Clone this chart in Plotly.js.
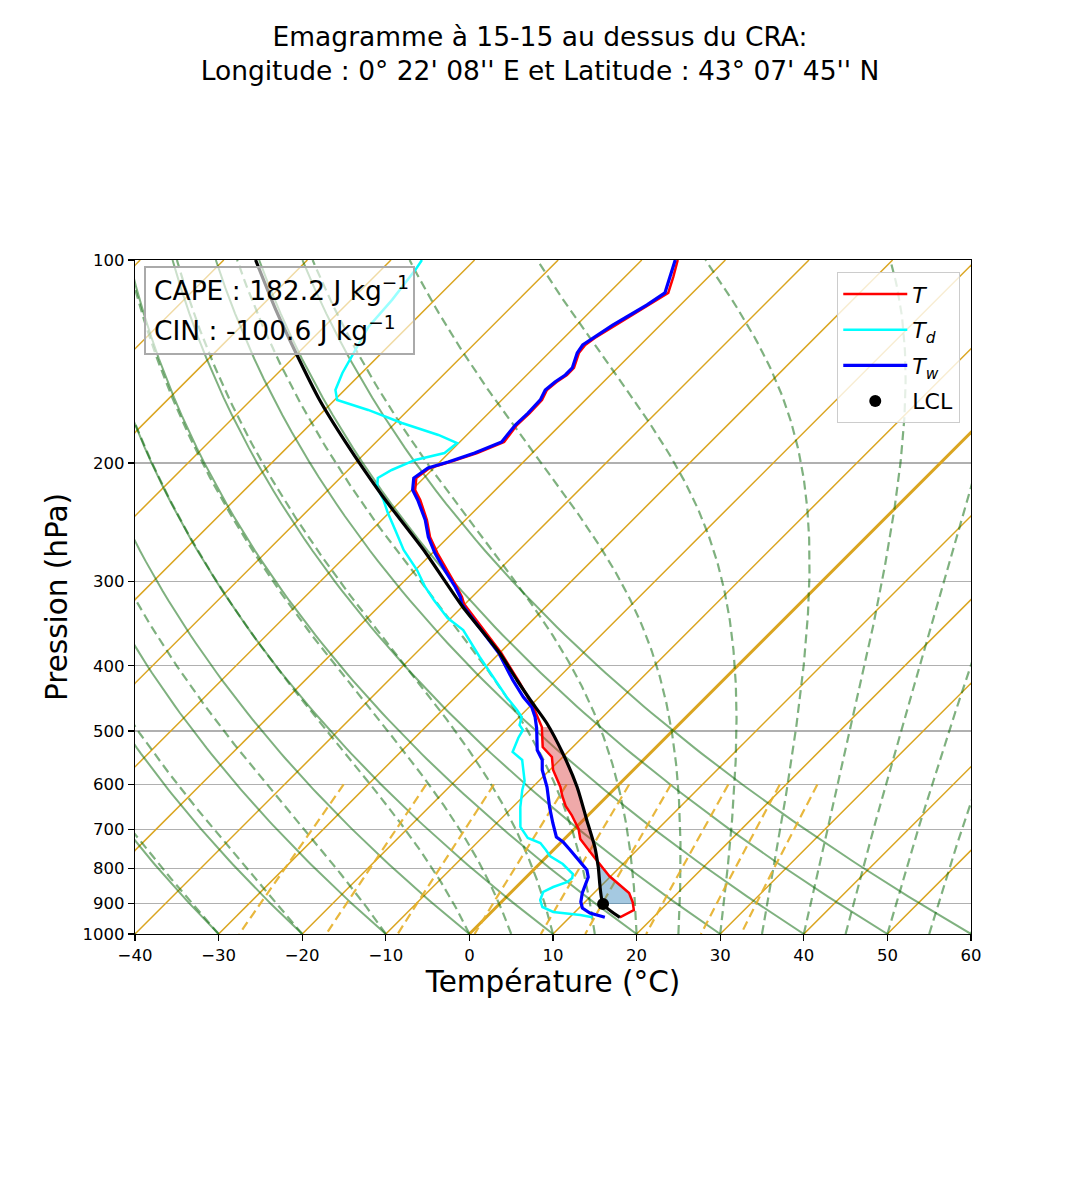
<!DOCTYPE html>
<html><head><meta charset="utf-8">
<script src="https://cdn.plot.ly/plotly-3.0.1.min.js"></script>
<style>body{margin:0;background:#fff}</style>
</head><body><div id="chart" style="width:1080px;height:1200px"></div>
<script>
// ---------------- Sounding data ----------------
// Temperature T (°C)
const pT = [944.5, 921.3, 896.4, 869.3, 820.3, 795.4, 768.7, 722.9, 698.6, 666.0, 645.8, 624.1, 605.2, 571.1, 546.3, 527.9, 493.0, 460.5, 424.2, 382.9, 323.9, 316.2, 305.6, 288.4, 272.1, 257.6, 243.1, 227.0, 219.4, 210.6, 203.5, 199.4, 193.4, 186.2, 175.7, 168.7, 161.3, 155.9, 151.7, 148.1, 144.6, 137.4, 133.7, 130.5, 124.9, 121.5, 116.6, 111.9, 106.0, 100.0];
const tT = [16.0, 16.8, 15.7, 14.2, 9.8, 7.8, 5.7, 1.9, 0.5, -2.0, -3.8, -5.4, -6.7, -9.6, -11.3, -13.6, -16.1, -19.5, -24.0, -29.8, -40.1, -41.2, -43.0, -46.2, -49.4, -52.2, -54.6, -57.8, -59.6, -60.9, -60.5, -58.8, -56.6, -54.7, -55.2, -55.1, -55.2, -55.8, -55.6, -55.2, -55.2, -56.4, -56.6, -56.3, -55.4, -54.7, -53.8, -52.9, -54.2, -55.7];
// Dew point Td (°C)
const pTd = [944.5, 937.2, 927.6, 911.9, 890.3, 866.3, 851.7, 837.2, 825.9, 814.7, 787.3, 766.1, 750.5, 732.8, 720.4, 693.8, 648.0, 611.4, 592.9, 551.9, 537.0, 511.9, 498.1, 489.7, 476.5, 465.2, 445.0, 419.9, 388.2, 354.0, 339.8, 319.5, 305.6, 288.4, 269.3, 251.5, 237.4, 227.0, 217.2, 210.6, 204.9, 198.0, 196.7, 193.4, 186.9, 181.8, 174.5, 166.9, 161.3, 155.9, 147.1, 139.3, 125.7, 114.6, 103.5, 100.0];
const tTd = [12.7, 11.0, 7.4, 5.5, 4.4, 3.8, 4.4, 5.5, 5.6, 5.2, 2.8, 0.3, -0.9, -2.4, -4.5, -6.7, -9.1, -10.9, -11.7, -14.5, -16.6, -17.6, -18.0, -19.0, -19.7, -21.1, -23.9, -27.3, -31.9, -37.1, -40.4, -44.2, -46.8, -49.8, -53.8, -57.2, -60.1, -62.2, -64.5, -65.5, -64.8, -63.2, -62.5, -60.5, -60.2, -63.4, -69.2, -74.8, -79.7, -81.1, -82.3, -83.1, -84.7, -85.1, -85.9, -86.3];
// Wet-bulb temperature Tw (°C)
const pTw = [944.5, 930.8, 915.0, 896.4, 869.3, 823.1, 803.6, 771.3, 750.5, 730.3, 717.9, 684.4, 648.0, 605.2, 571.1, 551.9, 533.3, 494.7, 476.5, 460.5, 445.0, 419.9, 382.9, 323.9, 316.2, 305.6, 288.4, 272.1, 257.6, 243.1, 227.0, 219.4, 210.6, 203.5, 199.4, 193.4, 186.2, 175.7, 168.7, 161.3, 155.9, 151.7, 148.1, 144.6, 137.4, 133.7, 130.5, 124.9, 121.5, 116.6, 111.9, 106.0, 100.0];
const tTw = [14.2, 11.9, 10.4, 9.5, 8.6, 7.4, 6.4, 3.8, 2.0, 0.2, -1.2, -3.3, -5.6, -8.3, -10.9, -12.1, -13.9, -16.6, -18.1, -19.7, -21.9, -25.2, -30.1, -40.4, -41.4, -43.2, -46.5, -49.7, -52.4, -54.8, -58.1, -59.9, -61.2, -60.7, -59.0, -56.9, -55.0, -55.4, -55.3, -55.4, -56.0, -55.8, -55.4, -55.4, -56.6, -56.9, -56.5, -55.7, -55.0, -54.0, -53.3, -54.6, -56.0];
// Parcel profile (°C)
const pParcel = [944.5, 902.6, 795.4, 742.9, 677.4, 605.2, 538.8, 486.3, 449.6, 419.9, 382.9, 327.2, 269.3, 232.5, 221.7, 187.1, 161.3, 137.5, 118.6, 100.0];
const tParcel = [16.0, 12.4, 7.4, 4.6, 0.4, -4.7, -10.5, -16.0, -20.7, -24.7, -30.0, -39.9, -51.4, -60.5, -63.4, -73.4, -81.8, -90.2, -97.8, -106.2];
// LCL
const lclP = [902.6];
const lclT = [12.4];
// Shaded layers (hPa): CAPE between capeLayer, CIN between cinLayer
const capeLayer = [493.0, 768.7];
const cinLayer = [768.7, 902.6];
const capeValue = '182.2';
const cinValue = '-100.6';

// ---------------- Diagram reference lines (parameters) ----------------
const isoT = [-120, -110, -100, -90, -80, -70, -60, -50, -40, -30, -20, -10, 0, 10, 20, 30, 40, 50, 60];
const dryT0 = [-40, -30, -20, -10, 0, 10, 20, 30, 40, 50, 60];
const moistT0 = [-40, -30, -20, -10, 0, 5, 10, 15, 20, 25, 30, 35, 40, 45, 50, 55, 60];
const mixW = [0.4, 1, 2, 4, 7, 10, 16, 24, 32]; // g/kg

// Axis ticks
const xTicks = [-40, -30, -20, -10, 0, 10, 20, 30, 40, 50, 60];
const pTicks = [100, 200, 300, 400, 500, 600, 700, 800, 900, 1000];
const pTickText = ['100', '200', '300', '400', '500', '600', '700', '800', '900', '1000'];

// ---------------- Geometry ----------------
const W = 1080, H = 1200;
const M = {l: 135, r: 109, t: 260, b: 266};
const plotW = W - M.l - M.r, plotH = H - M.t - M.b;
const SKEW = (plotH / plotW) * 100; // °C per decade of pressure -> 45° isotherms
function sx(t, p) { return t + SKEW * Math.log10(1000 / p); }

// thermodynamics helpers for reference lines
const Rd = 287.04749, Cpd = 1004.6662, Lv = 2.50084e6, eps = 0.621957;
function es(tc) { return 6.112 * Math.exp(17.67 * tc / (tc + 243.5)); }
function dTdp(p, T) {
  const e = es(T - 273.15); const rs = eps * e / (p - e);
  return (1 / p) * (Rd * T + Lv * rs) / (Cpd + (Lv * Lv * rs * eps) / (Rd * T * T));
}

function pushLine(X, Y, xs, ys) { for (let i = 0; i < xs.length; i++) { X.push(xs[i]); Y.push(ys[i]); } X.push(null); Y.push(null); }

// isotherms
const isoX = [], isoY = [];
isoT.filter(t => t !== 0).forEach(t => pushLine(isoX, isoY, [sx(t, 1000), sx(t, 100)], [1000, 100]));
// dry adiabats
const dryX = [], dryY = [];
dryT0.forEach(t0 => {
  const th = t0 + 273.15; const xs = [], ys = [];
  for (let i = 0; i <= 90; i++) { const p = 1000 - i * 10; const T = th * Math.pow(p / 1000, Rd / Cpd) - 273.15; xs.push(sx(T, p)); ys.push(p); }
  pushLine(dryX, dryY, xs, ys);
});
// moist adiabats
const moiX = [], moiY = [];
moistT0.forEach(t0 => {
  let T = t0 + 273.15, p = 1000; const xs = [sx(t0, p)], ys = [p]; const h = -2.5;
  while (p > 100.001) {
    const k1 = dTdp(p, T), k2 = dTdp(p + h / 2, T + h / 2 * k1), k3 = dTdp(p + h / 2, T + h / 2 * k2), k4 = dTdp(p + h, T + h * k3);
    T += h / 6 * (k1 + 2 * k2 + 2 * k3 + k4); p += h;
    if (!isFinite(T)) break;
    xs.push(sx(T - 273.15, p)); ys.push(p);
  }
  pushLine(moiX, moiY, xs, ys);
});
// mixing ratio lines
const mixX = [], mixY = [];
mixW.forEach(w => {
  const r = w / 1000; const xs = [], ys = [];
  for (let i = 0; i <= 40; i++) { const p = 600 + i * 10; const e = p * r / (eps + r); const l = Math.log(e / 6.112); const td = 243.5 * l / (17.67 - l); xs.push(sx(td, p)); ys.push(p); }
  pushLine(mixX, mixY, xs, ys);
});

// interpolation on log p for fill boundaries
function interp(ps, ts, p) {
  for (let i = 0; i < ps.length - 1; i++) {
    const a = ps[i], b = ps[i + 1];
    if ((p <= a && p >= b)) { const f = (Math.log(a) - Math.log(p)) / (Math.log(a) - Math.log(b)); return ts[i] + f * (ts[i + 1] - ts[i]); }
  }
  return ts[ts.length - 1];
}
function band(pTop, pBot) {
  const X = [], Y = [];
  const add = (t, p) => { X.push(sx(t, p)); Y.push(p); };
  add(interp(pT, tT, pBot), pBot);
  pT.forEach((p, i) => { if (p < pBot && p > pTop) add(tT[i], p); });
  add(interp(pT, tT, pTop), pTop);
  add(interp(pParcel, tParcel, pTop), pTop);
  for (let i = pParcel.length - 1; i >= 0; i--) { const p = pParcel[i]; if (p < pBot && p > pTop) add(tParcel[i], p); }
  add(interp(pParcel, tParcel, pBot), pBot);
  X.push(X[0]); Y.push(Y[0]);
  return {X, Y};
}
const cape = band(capeLayer[0], capeLayer[1]);
const cin = band(cinLayer[0], cinLayer[1]);

const gold = '#daa520';
const green = 'rgba(0,100,0,0.5)';
const traces = [
  {x: isoX, y: isoY, mode: 'lines', line: {color: gold, width: 1.5}, showlegend: false, hoverinfo: 'skip'},
  {x: [sx(0, 1000), sx(0, 100)], y: [1000, 100], mode: 'lines', line: {color: gold, width: 3}, showlegend: false, hoverinfo: 'skip'},
  {x: dryX, y: dryY, mode: 'lines', line: {color: green, width: 2}, showlegend: false, hoverinfo: 'skip'},
  {x: moiX, y: moiY, mode: 'lines', line: {color: green, width: 2.2, dash: '9px,5px'}, showlegend: false, hoverinfo: 'skip'},
  {x: mixX, y: mixY, mode: 'lines', line: {color: 'rgba(230,175,40,0.9)', width: 2.2, dash: '9px,5px'}, showlegend: false, hoverinfo: 'skip'},
  {x: cape.X, y: cape.Y, mode: 'lines', fill: 'toself', fillcolor: 'rgba(214,39,40,0.4)', line: {width: 0}, showlegend: false, hoverinfo: 'skip'},
  {x: cin.X, y: cin.Y, mode: 'lines', fill: 'toself', fillcolor: 'rgba(31,119,180,0.4)', line: {width: 0}, showlegend: false, hoverinfo: 'skip'},
  {x: tT.map((t, i) => sx(t, pT[i])), y: pT, mode: 'lines', name: '<i>T</i>', line: {color: '#ff0000', width: 2.5}, legendgroup: 'a'},
  {x: tTd.map((t, i) => sx(t, pTd[i])), y: pTd, mode: 'lines', name: '<i>T</i><sub><i>d</i></sub>', line: {color: '#00ffff', width: 2.5}, legendgroup: 'b'},
  {x: tTw.map((t, i) => sx(t, pTw[i])), y: pTw, mode: 'lines', name: '<i>T</i><sub><i>w</i></sub>', line: {color: '#0000ff', width: 3.2}, legendgroup: 'c'},
  {x: tParcel.map((t, i) => sx(t, pParcel[i])), y: pParcel, mode: 'lines', line: {color: '#000000', width: 3.2, shape: 'spline', smoothing: 0.6}, showlegend: false},
  {x: lclT.map((t, i) => sx(t, lclP[i])), y: lclP, mode: 'markers', name: 'LCL', marker: {color: '#000000', size: 12}, legendgroup: 'd'}
];

const fam = 'DejaVu Sans, sans-serif';
const layout = {
  width: W, height: H, margin: M,
  paper_bgcolor: '#ffffff', plot_bgcolor: '#ffffff',
  font: {family: fam, color: '#000000'},
  title: {text: "Emagramme à 15-15 au dessus du CRA:<br>Longitude : 0° 22' 08'' E et Latitude : 43° 07' 45'' N",
    font: {size: 26.5, family: fam, color: '#000'}, x: 0.5, xref: 'container', xanchor: 'center', y: 0.962, yref: 'container', yanchor: 'top'},
  xaxis: {range: [-40, 60], tickvals: xTicks, ticks: 'outside', ticklen: 6, tickwidth: 1.3, tickcolor: '#000',
    showline: true, linewidth: 1.3, linecolor: '#000', mirror: true, showgrid: false, zeroline: false,
    tickfont: {size: 16.5}, title: {text: 'Température (°C)', font: {size: 29.5}, standoff: 6}},
  yaxis: {type: 'log', range: [3, 2], tickvals: pTicks, ticktext: pTickText, ticks: 'outside', ticklen: 6, tickwidth: 1.3, tickcolor: '#000',
    showline: true, linewidth: 1.3, linecolor: '#000', mirror: true, showgrid: true, gridcolor: '#b0b0b0', gridwidth: 1.3, zeroline: false,
    tickfont: {size: 16.5}, title: {text: 'Pression (hPa)', font: {size: 29.5}, standoff: 6}},
  legend: {x: 0.9868, xanchor: 'right', y: 0.9822, yanchor: 'top', xref: 'paper', yref: 'paper',
    bgcolor: 'rgba(255,255,255,0.8)', bordercolor: '#cccccc', borderwidth: 1.3, font: {size: 22},
    tracegroupgap: 4, itemwidth: 64},
  shapes: [{type: 'rect', xref: 'paper', yref: 'paper', x0: (145 - M.l) / plotW, x1: (414 - M.l) / plotW,
    y0: (H - M.b - 354) / plotH, y1: (H - M.b - 267) / plotH, layer: 'above',
    fillcolor: 'rgba(255,255,255,0.6)', line: {color: '#aaaaaa', width: 2}}],
  annotations: [
    {xref: 'paper', yref: 'paper', x: (152 - M.l) / plotW, y: (H - M.b - 289) / plotH, xanchor: 'left', yanchor: 'middle', showarrow: false,
      text: 'CAPE : ' + capeValue + ' J kg<sup>−1</sup>', font: {size: 26.5}},
    {xref: 'paper', yref: 'paper', x: (152 - M.l) / plotW, y: (H - M.b - 329) / plotH, xanchor: 'left', yanchor: 'middle', showarrow: false,
      text: 'CIN : ' + cinValue + ' J kg<sup>−1</sup>', font: {size: 26.5}}
  ]
};
Plotly.newPlot('chart', traces, layout, {displayModeBar: false, staticPlot: true});
</script></body></html>
